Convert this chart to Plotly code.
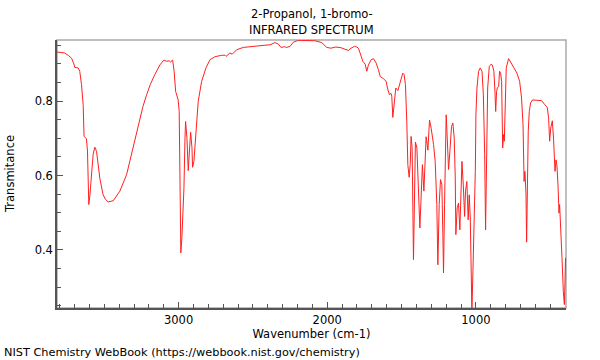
import plotly.graph_objects as go

title_line1 = "2-Propanol, 1-bromo-"
title_line2 = "INFRARED SPECTRUM"
x_label = "Wavenumber (cm-1)"
y_label = "Transmitance"
footer = "NIST Chemistry WebBook (https://webbook.nist.gov/chemistry)"

wavenumber = [
    3822, 3790, 3766, 3740, 3720, 3705, 3698, 3676, 3665, 3653, 3642, 3636, 3620, 3613, 3604, 3596,
    3586, 3575, 3564, 3552, 3530, 3508, 3490, 3474, 3440, 3420, 3395, 3350, 3306, 3272, 3240, 3215,
    3190, 3160, 3126, 3099, 3081, 3063, 3054, 3040, 3030, 3020, 3003, 2996, 2991, 2985, 2978, 2964,
    2957, 2953, 2944, 2935, 2926, 2919, 2910, 2906, 2897, 2884, 2868, 2845, 2816, 2789, 2756, 2710,
    2688, 2681, 2655, 2639, 2609, 2565, 2498, 2464, 2419, 2385, 2352, 2329, 2311, 2289, 2273, 2250,
    2228, 2195, 2127, 2082, 2037, 2003, 1974, 1947, 1914, 1885, 1858, 1840, 1817, 1800, 1791, 1779,
    1761, 1745, 1734, 1723, 1705, 1689, 1671, 1656, 1644, 1622, 1604, 1595, 1582, 1572, 1566, 1559,
    1550, 1539, 1525, 1514, 1503, 1492, 1483, 1474, 1465, 1458, 1449, 1442, 1436, 1429, 1420, 1413,
    1407, 1397, 1389, 1377, 1368, 1360, 1350, 1341, 1335, 1323, 1312, 1301, 1285, 1274, 1263, 1256,
    1247, 1238, 1229, 1222, 1218, 1211, 1205, 1200, 1193, 1184, 1175, 1164, 1155, 1146, 1139, 1135,
    1126, 1117, 1108, 1101, 1094, 1085, 1076, 1070, 1061, 1052, 1045, 1038, 1031, 1027, 1020, 1014,
    1009, 1004, 1000, 993, 982, 971, 959, 950, 941, 935, 928, 921, 910, 898, 890, 879,
    872, 867, 861, 856, 847, 841, 834, 827, 820, 814, 809, 802, 796, 780, 769, 747,
    724, 706, 693, 683, 676, 672, 670, 663, 659, 655, 648, 641, 632, 619, 592, 558,
    536, 520, 511, 504, 497, 486, 478, 468, 461, 455, 448, 441, 437, 430, 421, 412,
    405, 399, 397,
]

transmittance = [
    0.932, 0.931, 0.929, 0.922, 0.915, 0.900, 0.890, 0.889, 0.880, 0.844, 0.790, 0.705, 0.699, 0.666, 0.522, 0.550,
    0.593, 0.656, 0.676, 0.665, 0.593, 0.548, 0.535, 0.529, 0.532, 0.543, 0.558, 0.602, 0.674, 0.736, 0.785, 0.817,
    0.845, 0.871, 0.897, 0.910, 0.907, 0.908, 0.905, 0.910, 0.880, 0.826, 0.803, 0.772, 0.611, 0.392, 0.432, 0.566,
    0.701, 0.745, 0.701, 0.613, 0.674, 0.716, 0.674, 0.622, 0.638, 0.701, 0.799, 0.853, 0.889, 0.911, 0.919, 0.923,
    0.923, 0.920, 0.929, 0.926, 0.938, 0.944, 0.947, 0.950, 0.950, 0.951, 0.957, 0.953, 0.944, 0.946, 0.944, 0.947,
    0.958, 0.963, 0.963, 0.962, 0.957, 0.944, 0.942, 0.945, 0.944, 0.940, 0.936, 0.942, 0.947, 0.945, 0.942, 0.929,
    0.907, 0.899, 0.880, 0.897, 0.911, 0.914, 0.902, 0.884, 0.866, 0.860, 0.853, 0.835, 0.817, 0.821, 0.813, 0.756,
    0.790, 0.835, 0.828, 0.844, 0.862, 0.875, 0.871, 0.844, 0.745, 0.629, 0.595, 0.629, 0.705, 0.674, 0.374, 0.629,
    0.690, 0.674, 0.593, 0.459, 0.548, 0.629, 0.558, 0.660, 0.704, 0.668, 0.749, 0.727, 0.683, 0.638, 0.522, 0.360,
    0.522, 0.589, 0.575, 0.432, 0.338, 0.522, 0.701, 0.763, 0.701, 0.616, 0.665, 0.732, 0.741, 0.701, 0.593, 0.441,
    0.513, 0.526, 0.454, 0.566, 0.638, 0.575, 0.490, 0.558, 0.584, 0.481, 0.548, 0.486, 0.360, 0.235, 0.343, 0.522,
    0.531, 0.611, 0.763, 0.835, 0.880, 0.889, 0.880, 0.817, 0.656, 0.454, 0.656, 0.835, 0.893, 0.899, 0.897, 0.880,
    0.826, 0.772, 0.826, 0.835, 0.839, 0.880, 0.875, 0.853, 0.674, 0.710, 0.692, 0.835, 0.889, 0.914, 0.907, 0.893,
    0.875, 0.853, 0.808, 0.736, 0.584, 0.607, 0.611, 0.548, 0.421, 0.566, 0.719, 0.772, 0.795, 0.803, 0.803, 0.801,
    0.790, 0.783, 0.754, 0.692, 0.727, 0.747, 0.701, 0.611, 0.642, 0.627, 0.575, 0.499, 0.522, 0.468, 0.379, 0.289,
    0.253, 0.343, 0.379,
]

x_ticks = [3000, 2000, 1000]
y_ticks = [0.4, 0.6, 0.8]

FONT = "DejaVu Sans"
FS = 11.5
fig = go.Figure()
fig.add_trace(go.Scatter(
    x=wavenumber, y=transmittance, mode="lines",
    line=dict(color="#ff2020", width=1), hoverinfo="skip", showlegend=False,
))

fig.update_layout(
    width=600, height=360,
    margin=dict(l=57, r=34, t=40, b=52),
    paper_bgcolor="white", plot_bgcolor="white",
    font=dict(family=FONT, size=FS, color="black"),
    xaxis=dict(
        range=[3818, 394], tickvals=x_ticks, ticktext=[str(v) for v in x_ticks],
        ticks="inside", ticklen=6, tickcolor="#555", showgrid=False, zeroline=False,
        showline=True, linecolor="#555", linewidth=1.5,
        minor=dict(dtick=100, tick0=0, ticks="inside", ticklen=4, tickcolor="#555", showgrid=False),
        title=dict(text=x_label, standoff=4, font=dict(size=FS, family=FONT, color="black")),
    ),
    yaxis=dict(
        range=[0.244, 0.964], tickvals=y_ticks, ticktext=["%.1f" % v for v in y_ticks],
        ticks="inside", ticklen=6, tickcolor="#555", showgrid=False, zeroline=False,
        showline=True, linecolor="#555", linewidth=1.5,
        minor=dict(dtick=0.05, tick0=0, ticks="inside", ticklen=4, tickcolor="#555", showgrid=False),
    ),
    shapes=[dict(type="rect", xref="paper", yref="paper", x0=0, y0=0, x1=1, y1=1,
                 line=dict(color="#aaaaaa", width=1.5), layer="below")],
    annotations=[
        dict(text=title_line1, xref="paper", yref="paper", x=0.5, y=(307.7 - 14) / 268,
             xanchor="center", yanchor="middle", showarrow=False),
        dict(text=title_line2, xref="paper", yref="paper", x=0.5, y=(307.7 - 30) / 268,
             xanchor="center", yanchor="middle", showarrow=False),
        dict(text=y_label, xref="paper", yref="paper", x=(10 - 57) / 509, y=0.5,
             xanchor="center", yanchor="middle", textangle=-90, showarrow=False),
        dict(text=footer, xref="paper", yref="paper", x=(2 - 57) / 509, y=(307.7 - 352) / 268,
             xanchor="left", yanchor="middle", showarrow=False, font=dict(size=11.3)),
    ],
)

fig.write_html("out.html", config={"displayModeBar": False},
               post_script="document.body.style.margin='0';")
